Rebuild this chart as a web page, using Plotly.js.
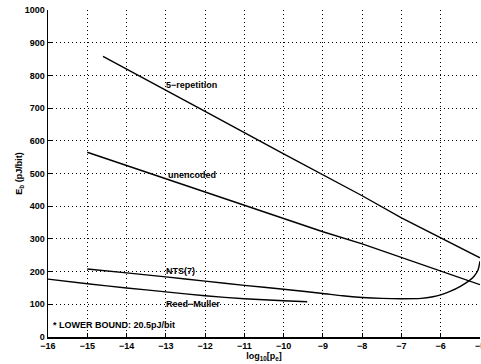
<!DOCTYPE html>
<html>
<head>
<meta charset="utf-8">
<script src="https://cdn.plot.ly/plotly-3.0.1.min.js"></script>
<style>html,body{margin:0;padding:0;background:#fff;}#chart{width:481px;height:364px;}</style>
</head>
<body>
<div id="chart"></div>
<script>
// x: log10(pe), y: Eb (pJ/bit)
const repX = [-14.6, -13.15, -12, -10, -8, -7, -6, -5];
const repY = [858, 763, 690, 560, 432, 364, 302, 242];

const uncX = [-15, -13, -11, -9, -8, -7, -6, -5];
const uncY = [565, 484, 403, 322, 285, 244, 202, 160];

const ntsX = [-15, -14, -13, -12, -11, -10, -9, -8.5, -8, -7.5, -7, -6.5, -6.2, -6, -5.75, -5.5, -5.3, -5.15, -5.05, -5];
const ntsY = [208, 196, 184, 171, 158, 146, 133, 126, 121, 118, 117, 118, 123, 129, 140, 155, 170, 186, 205, 232];

const rmX = [-16, -15, -14, -13, -12, -11, -10, -9.4];
const rmY = [177, 163, 150, 138, 126, 117, 111, 108];

const labels = ["5\u2212repetition", "unencoded", "NTS(7)", "Reed\u2212Muller", "* LOWER BOUND: 20.5pJ/bit"];
const labelX = [-13.05, -13.0, -13.05, -13.05, -15.93];
const labelY = [772, 495, 201, 101, 37];

const xTicks = [-16, -15, -14, -13, -12, -11, -10, -9, -8, -7, -6, -5];
const yTicks = [0, 100, 200, 300, 400, 500, 600, 700, 800, 900, 1000];

const font = {family: "Liberation Sans, Arial, sans-serif", size: 9, color: "#000", weight: "bold"};
const lineStyle = {color: "#000", width: 1.4};

const traces = [
  {x: repX, y: repY, mode: "lines", line: lineStyle, hoverinfo: "skip"},
  {x: uncX, y: uncY, mode: "lines", line: lineStyle, hoverinfo: "skip"},
  {x: ntsX, y: ntsY, mode: "lines", line: Object.assign({shape: "spline", smoothing: 0.6}, lineStyle), hoverinfo: "skip"},
  {x: rmX, y: rmY, mode: "lines", line: Object.assign({shape: "spline", smoothing: 0.6}, lineStyle), hoverinfo: "skip"}
];

const annotations = labels.map((t, i) => ({
  x: labelX[i], y: labelY[i], xref: "x", yref: "y", text: t, showarrow: false,
  xanchor: "left", yanchor: "middle", font: font
}));

const gridStyle = {showgrid: true, gridcolor: "#000", gridwidth: 1, griddash: "1px,3px"};

const layout = {
  width: 481, height: 364,
  margin: {l: 48, r: 1, t: 10, b: 27, pad: 0},
  paper_bgcolor: "#fff", plot_bgcolor: "#fff",
  showlegend: false,
  font: font,
  xaxis: Object.assign({
    range: [-16, -5], tickvals: xTicks, ticktext: xTicks.map(v => "\u2212" + Math.abs(v)),
    showline: true, linecolor: "#000", linewidth: 1.5, mirror: false,
    ticks: "inside", ticklen: 4, tickcolor: "#000", zeroline: false,
    tickfont: font, ticklabeloverflow: "allow",
    title: {text: "log<sub>10</sub>[p<sub>e</sub>]", font: font, standoff: 0},
    automargin: false
  }, gridStyle),
  yaxis: Object.assign({
    range: [0, 1000], tickvals: yTicks,
    showline: true, linecolor: "#000", linewidth: 1.5, mirror: false,
    ticks: "inside", ticklen: 4, tickcolor: "#000", zeroline: false,
    tickfont: font, ticklabeloverflow: "allow",
    title: {text: "E<sub>b</sub> (pJ/bit)", font: font, standoff: 0},
    automargin: false
  }, gridStyle),
  annotations: annotations
};

Plotly.newPlot("chart", traces, layout, {staticPlot: true, displayModeBar: false});
</script>
</body>
</html>
